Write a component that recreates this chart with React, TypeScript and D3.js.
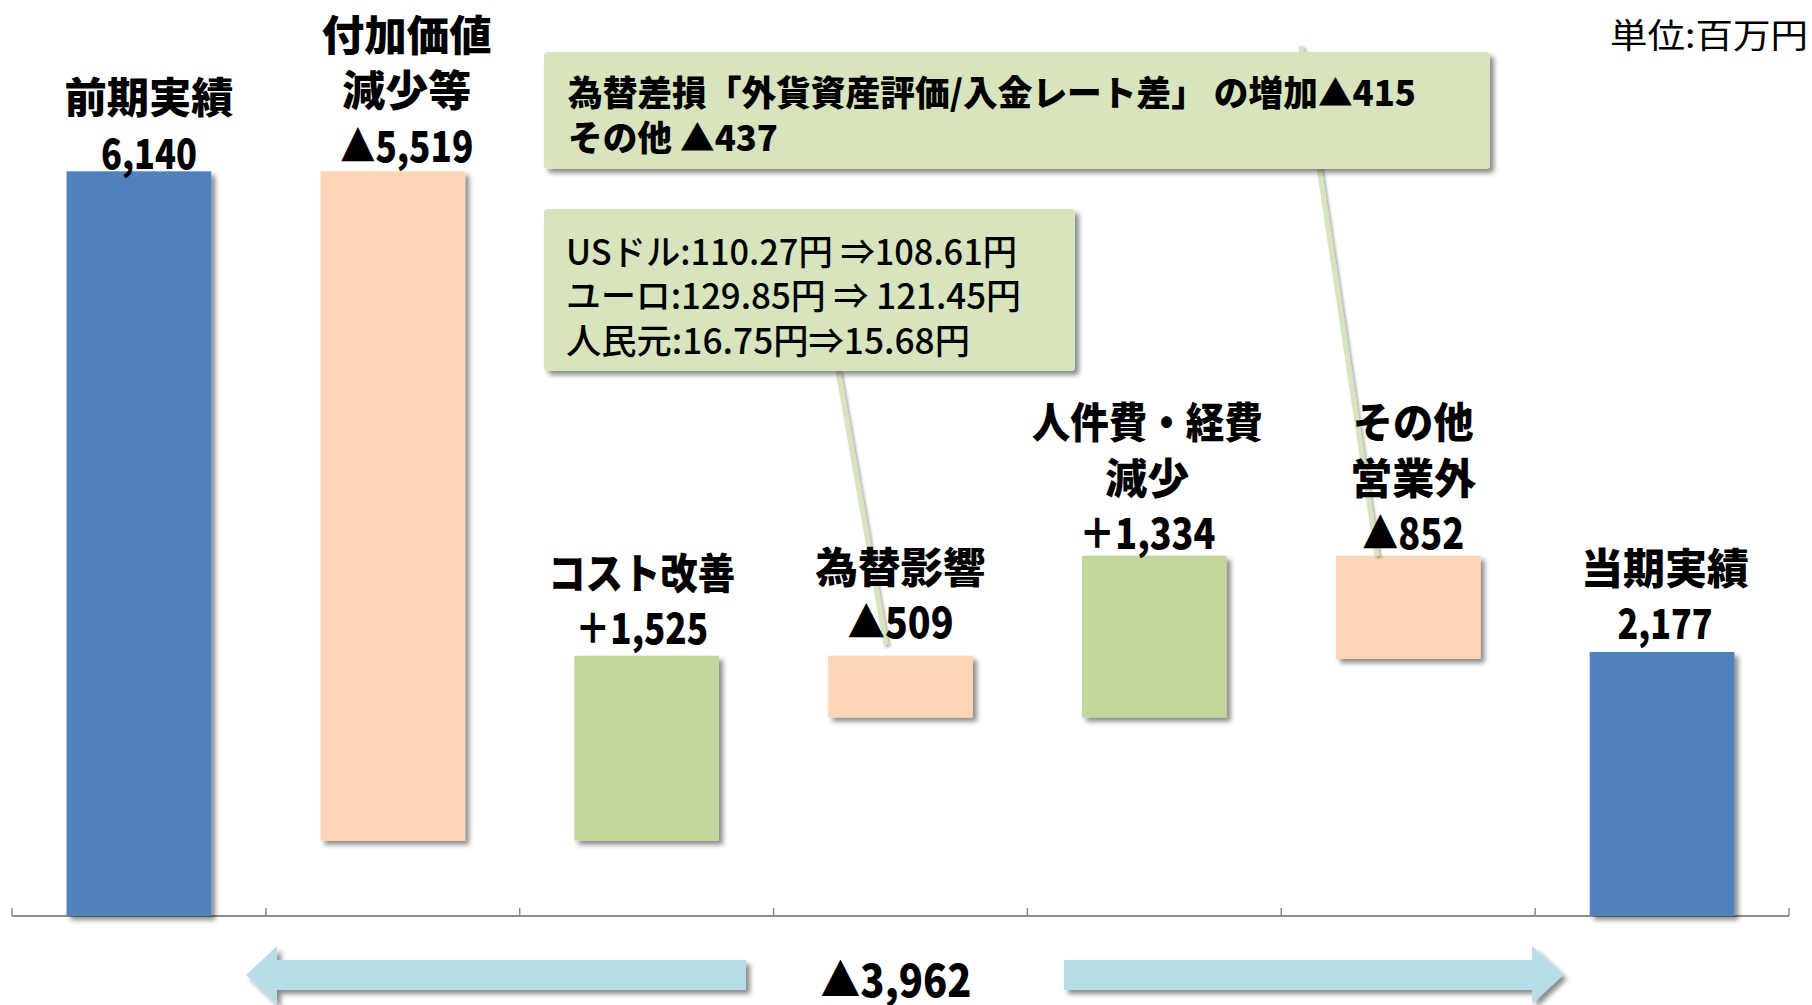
import React from 'react';
import * as d3 from 'd3';

// ---------- data ----------
const categories = ['前期実績', '付加価値減少等', 'コスト改善', '為替影響', '人件費・経費減少', 'その他営業外', '当期実績'];
const labelLines = [['前期実績'], ['付加価値', '減少等'], ['コスト改善'], ['為替影響'], ['人件費・経費', '減少'], ['その他', '営業外'], ['当期実績']];
const values = [6140, -5519, 1525, -509, 1334, -852, 2177];
const kinds = ['total', 'delta', 'delta', 'delta', 'delta', 'delta', 'total'];
const valueLabels = ['6,140', '▲5,519', '＋1,525', '▲509', '＋1,334', '▲852', '2,177'];
const callout1Lines = ['為替差損「外貨資産評価/入金レート差」 の増加▲415', 'その他 ▲437'];
const callout2Lines = ['USドル:110.27円 ⇒108.61円', 'ユーロ:129.85円 ⇒ 121.45円', '人民元:16.75円⇒15.68円'];
const totalLabel = '▲3,962';
const unitLabel = '単位:百万円';
const yDomain = [0, 7000];

// ---------- layout / style ----------
const W = 1812, H = 1005;
const FONT = "'Noto Sans CJK JP', 'Noto Sans', sans-serif";
const COLORS = { total: '#4F81BD', up: '#C3D69B', down: '#FBD5B5', callout: '#D7E4BD', arrow: '#B7DDE8', axis: '#8C8C8C' };
const labelDx = [10, 14, -5, 0, -7, 5, 3];
const labelDy = [-21, -28, -30, -36, -25, -25, -31];
const lineGap = 55.5;
const labelWidths: Record<string, number> = {
  '前期実績': 169, '6,140': 96, '付加価値': 170, '減少等': 129, '▲5,519': 133,
  'コスト改善': 187, '＋1,525': 133, '為替影響': 170, '▲509': 106,
  '人件費・経費': 231, '減少': 84, '＋1,334': 136, 'その他': 121, '営業外': 126, '▲852': 102,
  '当期実績': 168, '2,177': 95,
};

export default function App() {
  const x = d3.scaleBand<string>().domain(categories).range([12, 1789]).paddingInner(0.43).paddingOuter(0.215);
  const y = d3.scaleLinear().domain(yDomain).range([916, 67]);

  // waterfall
  let run = 0;
  const bars = values.map((v, i) => {
    let lo: number, hi: number, color: string;
    if (kinds[i] === 'total') {
      lo = 0; hi = v; run = v; color = COLORS.total;
    } else {
      const next = run + v;
      lo = Math.min(run, next); hi = Math.max(run, next); run = next;
      color = v >= 0 ? COLORS.up : COLORS.down;
    }
    return { cat: categories[i], lo, hi, color, i };
  });

  const step = x.step();
  const x0 = x.range()[0];
  const ticks = d3.range(categories.length + 1).map((k) => x0 + k * step);

  const arrowY = 975, bodyH = 15, headH = 29, headL = 31;
  const leftTip = 246, leftEnd = 746, rightStart = 1064, rightTip = 1563;
  const leftArrow = [[leftTip, arrowY], [leftTip + headL, arrowY - headH], [leftTip + headL, arrowY - bodyH], [leftEnd, arrowY - bodyH], [leftEnd, arrowY + bodyH], [leftTip + headL, arrowY + bodyH], [leftTip + headL, arrowY + headH]];
  const rightArrow = [[rightTip, arrowY], [rightTip - headL, arrowY - headH], [rightTip - headL, arrowY - bodyH], [rightStart, arrowY - bodyH], [rightStart, arrowY + bodyH], [rightTip - headL, arrowY + bodyH], [rightTip - headL, arrowY + headH]];
  const poly = (pts: number[][]) => 'M' + pts.map((p) => p.join(',')).join('L') + 'Z';

  return (
    <svg width={W} height={H} style={{ position: 'absolute', left: 0, top: 0, background: '#fff' }} fontFamily={FONT}>
      <defs>
        <filter id="sh" x="-10%" y="-10%" width="130%" height="130%">
          <feDropShadow dx="4" dy="4" stdDeviation="2.5" floodColor="#000" floodOpacity="0.45" />
        </filter>
        <filter id="shs" x="-20%" y="-5%" width="140%" height="115%">
          <feDropShadow dx="2" dy="2" stdDeviation="1.5" floodColor="#000" floodOpacity="0.35" />
        </filter>
      </defs>
      <rect width={W} height={H} fill="#fff" />

      {/* axis */}
      <line x1={x.range()[0]} x2={x.range()[1]} y1={916} y2={916} stroke={COLORS.axis} strokeWidth={2} />
      {ticks.map((t, k) => (
        <line key={k} x1={t} x2={t} y1={908} y2={916} stroke={COLORS.axis} strokeWidth={1.5} />
      ))}

      {/* bars */}
      {bars.map((b) => (
        <rect key={b.i} x={x(b.cat)} y={y(b.hi)} width={x.bandwidth()} height={y(b.lo) - y(b.hi)} fill={b.color} filter="url(#sh)" />
      ))}

      {/* leader lines */}
      <line x1={1301} y1={46} x2={1377} y2={556} stroke={COLORS.callout} strokeWidth={5} filter="url(#shs)" />
      <line x1={838} y1={370} x2={886} y2={645} stroke={COLORS.callout} strokeWidth={5} filter="url(#shs)" />

      {/* callouts */}
      <rect x={544} y={52} width={946} height={117} rx={4} fill={COLORS.callout} filter="url(#sh)" />
      {callout1Lines.map((t, k) => (
        <text key={k} x={568} y={90 + k * 45} dominantBaseline="central" fontSize={35} fontWeight={900}
          textLength={k === 0 ? 848 : 210} lengthAdjust="spacingAndGlyphs">{t}</text>
      ))}
      <rect x={544} y={209} width={531} height={162} rx={4} fill={COLORS.callout} filter="url(#sh)" />
      {callout2Lines.map((t, k) => (
        <text key={k} x={566} y={249 + k * 44.5} dominantBaseline="central" fontSize={35} fontWeight={500}
          textLength={[451, 455, 404][k]} lengthAdjust="spacingAndGlyphs">{t}</text>
      ))}

      {/* labels */}
      {bars.map((b) => {
        const cx = (x(b.cat) as number) + x.bandwidth() / 2 + labelDx[b.i];
        const vy = y(b.hi) + labelDy[b.i];
        const lines = [...labelLines[b.i], valueLabels[b.i]];
        const n = lines.length;
        return (
          <g key={b.i}>
            {lines.map((t, k) => (
              <text key={k} x={cx} y={vy - (n - 1 - k) * lineGap} textAnchor="middle" dominantBaseline="central"
                fontSize={42} fontWeight={900} textLength={labelWidths[t]} lengthAdjust="spacingAndGlyphs">{t}</text>
            ))}
          </g>
        );
      })}

      {/* unit */}
      <text x={1808} y={33} textAnchor="end" dominantBaseline="central" fontSize={34} fontWeight={400}
        textLength={198} lengthAdjust="spacingAndGlyphs">{unitLabel}</text>

      {/* bottom arrows */}
      <path d={poly(leftArrow)} fill={COLORS.arrow} filter="url(#sh)" />
      <path d={poly(rightArrow)} fill={COLORS.arrow} filter="url(#sh)" />
      <text x={896} y={977} textAnchor="middle" dominantBaseline="central" fontSize={45} fontWeight={900}
        textLength={151} lengthAdjust="spacingAndGlyphs">{totalLabel}</text>
    </svg>
  );
}
